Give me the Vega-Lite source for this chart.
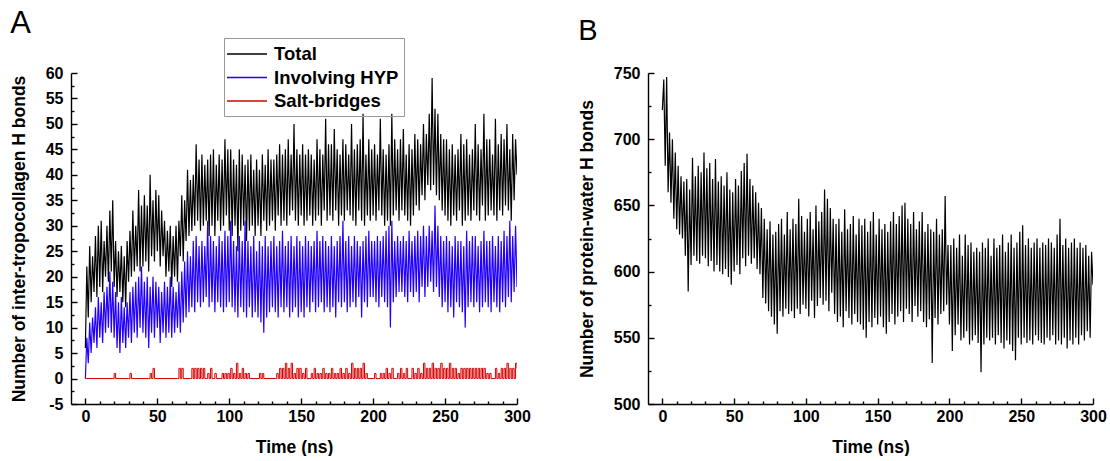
{
"$schema": "https://vega.github.io/schema/vega-lite/v6.json",
"background": "white",
"padding": {"left": 10, "top": 8, "right": 0, "bottom": 0},
"bounds": "flush",
"spacing": 131,
"config": {
  "font": "Liberation Sans",
  "view": {"stroke": null},
  "axis": {"grid": false, "ticks": false, "labelOverlap": false, "labelFont": "Liberation Sans", "labelFontWeight": "bold", "labelFontSize": 16, "labelColor": "#000", "titleFont": "Liberation Sans", "titleFontWeight": "bold", "titleFontSize": 17.5, "titleColor": "#000", "domainColor": "#000", "domainWidth": 1.4, "gridColor": "#000", "gridOpacity": 1, "gridWidth": 1.4, "labelFlush": false}
},
"datasets": {
"total": [{"t":0,"v":6},{"t":1,"v":22},{"t":2,"v":12},{"t":3,"v":26},{"t":4,"v":15},{"t":5,"v":24},{"t":6,"v":17},{"t":7,"v":28},{"t":8,"v":16},{"t":9,"v":30},
{"t":10,"v":18},{"t":11,"v":31},{"t":12,"v":17},{"t":13,"v":27},{"t":14,"v":20},{"t":15,"v":30},{"t":16,"v":19},{"t":17,"v":33},{"t":18,"v":21},{"t":19,"v":35},
{"t":20,"v":18},{"t":21,"v":27},{"t":22,"v":16},{"t":23,"v":25},{"t":24,"v":17},{"t":25,"v":26},{"t":26,"v":15},{"t":27,"v":24},{"t":28,"v":14},{"t":29,"v":27},
{"t":30,"v":19},{"t":31,"v":29},{"t":32,"v":20},{"t":33,"v":33},{"t":34,"v":21},{"t":35,"v":30},{"t":36,"v":22},{"t":37,"v":37},{"t":38,"v":21},{"t":39,"v":34},
{"t":40,"v":22},{"t":41,"v":36},{"t":42,"v":23},{"t":43,"v":34},{"t":44,"v":21},{"t":45,"v":40},{"t":46,"v":24},{"t":47,"v":35},{"t":48,"v":23},{"t":49,"v":37},
{"t":50,"v":25},{"t":51,"v":36},{"t":52,"v":22},{"t":53,"v":33},{"t":54,"v":24},{"t":55,"v":31},{"t":56,"v":20},{"t":57,"v":29},{"t":58,"v":21},{"t":59,"v":30},
{"t":60,"v":18},{"t":61,"v":28},{"t":62,"v":20},{"t":63,"v":30},{"t":64,"v":19},{"t":65,"v":31},{"t":66,"v":24},{"t":67,"v":36},{"t":68,"v":23},{"t":69,"v":35},
{"t":70,"v":27},{"t":71,"v":41},{"t":72,"v":28},{"t":73,"v":39},{"t":74,"v":29},{"t":75,"v":40},{"t":76,"v":30},{"t":77,"v":46},{"t":78,"v":31},{"t":79,"v":43},
{"t":80,"v":29},{"t":81,"v":44},{"t":82,"v":30},{"t":83,"v":42},{"t":84,"v":31},{"t":85,"v":43},{"t":86,"v":28},{"t":87,"v":44},{"t":88,"v":30},{"t":89,"v":45},
{"t":90,"v":28},{"t":91,"v":42},{"t":92,"v":31},{"t":93,"v":44},{"t":94,"v":29},{"t":95,"v":43},{"t":96,"v":30},{"t":97,"v":47},{"t":98,"v":32},{"t":99,"v":45},
{"t":100,"v":29},{"t":101,"v":45},{"t":102,"v":28},{"t":103,"v":43},{"t":104,"v":30},{"t":105,"v":42},{"t":106,"v":25},{"t":107,"v":45},{"t":108,"v":29},{"t":109,"v":44},
{"t":110,"v":30},{"t":111,"v":42},{"t":112,"v":27},{"t":113,"v":43},{"t":114,"v":29},{"t":115,"v":44},{"t":116,"v":30},{"t":117,"v":41},{"t":118,"v":28},{"t":119,"v":43},
{"t":120,"v":30},{"t":121,"v":41},{"t":122,"v":28},{"t":123,"v":44},{"t":124,"v":31},{"t":125,"v":42},{"t":126,"v":29},{"t":127,"v":45},{"t":128,"v":30},{"t":129,"v":43},
{"t":130,"v":31},{"t":131,"v":43},{"t":132,"v":29},{"t":133,"v":44},{"t":134,"v":32},{"t":135,"v":46},{"t":136,"v":30},{"t":137,"v":44},{"t":138,"v":31},{"t":139,"v":45},
{"t":140,"v":30},{"t":141,"v":47},{"t":142,"v":32},{"t":143,"v":44},{"t":144,"v":33},{"t":145,"v":50},{"t":146,"v":31},{"t":147,"v":45},{"t":148,"v":30},{"t":149,"v":44},
{"t":150,"v":32},{"t":151,"v":46},{"t":152,"v":30},{"t":153,"v":44},{"t":154,"v":31},{"t":155,"v":45},{"t":156,"v":32},{"t":157,"v":44},{"t":158,"v":30},{"t":159,"v":43},
{"t":160,"v":31},{"t":161,"v":47},{"t":162,"v":32},{"t":163,"v":45},{"t":164,"v":30},{"t":165,"v":44},{"t":166,"v":33},{"t":167,"v":51},{"t":168,"v":31},{"t":169,"v":46},
{"t":170,"v":32},{"t":171,"v":46},{"t":172,"v":31},{"t":173,"v":49},{"t":174,"v":33},{"t":175,"v":45},{"t":176,"v":30},{"t":177,"v":44},{"t":178,"v":32},{"t":179,"v":47},
{"t":180,"v":31},{"t":181,"v":46},{"t":182,"v":33},{"t":183,"v":44},{"t":184,"v":32},{"t":185,"v":50},{"t":186,"v":31},{"t":187,"v":45},{"t":188,"v":30},{"t":189,"v":46},
{"t":190,"v":33},{"t":191,"v":47},{"t":192,"v":31},{"t":193,"v":52},{"t":194,"v":30},{"t":195,"v":44},{"t":196,"v":32},{"t":197,"v":47},{"t":198,"v":31},{"t":199,"v":45},
{"t":200,"v":32},{"t":201,"v":46},{"t":202,"v":31},{"t":203,"v":44},{"t":204,"v":33},{"t":205,"v":51},{"t":206,"v":32},{"t":207,"v":45},{"t":208,"v":30},{"t":209,"v":44},
{"t":210,"v":31},{"t":211,"v":46},{"t":212,"v":30},{"t":213,"v":52},{"t":214,"v":32},{"t":215,"v":47},{"t":216,"v":33},{"t":217,"v":45},{"t":218,"v":31},{"t":219,"v":47},
{"t":220,"v":33},{"t":221,"v":49},{"t":222,"v":32},{"t":223,"v":44},{"t":224,"v":31},{"t":225,"v":46},{"t":226,"v":30},{"t":227,"v":45},{"t":228,"v":32},{"t":229,"v":48},
{"t":230,"v":34},{"t":231,"v":47},{"t":232,"v":33},{"t":233,"v":46},{"t":234,"v":36},{"t":235,"v":50},{"t":236,"v":35},{"t":237,"v":48},{"t":238,"v":38},{"t":239,"v":52},
{"t":240,"v":37},{"t":241,"v":59},{"t":242,"v":38},{"t":243,"v":53},{"t":244,"v":36},{"t":245,"v":52},{"t":246,"v":35},{"t":247,"v":48},{"t":248,"v":33},{"t":249,"v":47},
{"t":250,"v":32},{"t":251,"v":47},{"t":252,"v":31},{"t":253,"v":45},{"t":254,"v":30},{"t":255,"v":46},{"t":256,"v":32},{"t":257,"v":44},{"t":258,"v":31},{"t":259,"v":45},
{"t":260,"v":33},{"t":261,"v":48},{"t":262,"v":30},{"t":263,"v":46},{"t":264,"v":31},{"t":265,"v":47},{"t":266,"v":32},{"t":267,"v":44},{"t":268,"v":31},{"t":269,"v":45},
{"t":270,"v":33},{"t":271,"v":50},{"t":272,"v":32},{"t":273,"v":46},{"t":274,"v":31},{"t":275,"v":45},{"t":276,"v":34},{"t":277,"v":52},{"t":278,"v":31},{"t":279,"v":47},
{"t":280,"v":32},{"t":281,"v":47},{"t":282,"v":33},{"t":283,"v":44},{"t":284,"v":32},{"t":285,"v":51},{"t":286,"v":31},{"t":287,"v":46},{"t":288,"v":33},{"t":289,"v":48},
{"t":290,"v":32},{"t":291,"v":47},{"t":292,"v":34},{"t":293,"v":50},{"t":294,"v":33},{"t":295,"v":45},{"t":296,"v":31},{"t":297,"v":48},{"t":298,"v":35},{"t":299,"v":47},
{"t":300,"v":40}],
"hyp": [{"t":0,"v":0},{"t":1,"v":8},{"t":2,"v":3},{"t":3,"v":11},{"t":4,"v":5},{"t":5,"v":12},{"t":6,"v":7},{"t":7,"v":14},{"t":8,"v":6},{"t":9,"v":16},
{"t":10,"v":8},{"t":11,"v":15},{"t":12,"v":7},{"t":13,"v":17},{"t":14,"v":9},{"t":15,"v":18},{"t":16,"v":10},{"t":17,"v":21},{"t":18,"v":9},{"t":19,"v":19},
{"t":20,"v":8},{"t":21,"v":17},{"t":22,"v":6},{"t":23,"v":15},{"t":24,"v":5},{"t":25,"v":16},{"t":26,"v":7},{"t":27,"v":14},{"t":28,"v":6},{"t":29,"v":15},
{"t":30,"v":8},{"t":31,"v":17},{"t":32,"v":7},{"t":33,"v":18},{"t":34,"v":9},{"t":35,"v":19},{"t":36,"v":8},{"t":37,"v":20},{"t":38,"v":10},{"t":39,"v":22},
{"t":40,"v":9},{"t":41,"v":19},{"t":42,"v":8},{"t":43,"v":20},{"t":44,"v":6},{"t":45,"v":18},{"t":46,"v":9},{"t":47,"v":20},{"t":48,"v":8},{"t":49,"v":19},
{"t":50,"v":10},{"t":51,"v":18},{"t":52,"v":7},{"t":53,"v":17},{"t":54,"v":9},{"t":55,"v":19},{"t":56,"v":8},{"t":57,"v":18},{"t":58,"v":9},{"t":59,"v":20},
{"t":60,"v":8},{"t":61,"v":18},{"t":62,"v":9},{"t":63,"v":17},{"t":64,"v":10},{"t":65,"v":19},{"t":66,"v":9},{"t":67,"v":21},{"t":68,"v":11},{"t":69,"v":23},
{"t":70,"v":12},{"t":71,"v":25},{"t":72,"v":13},{"t":73,"v":24},{"t":74,"v":14},{"t":75,"v":27},{"t":76,"v":13},{"t":77,"v":28},{"t":78,"v":15},{"t":79,"v":26},
{"t":80,"v":14},{"t":81,"v":27},{"t":82,"v":15},{"t":83,"v":26},{"t":84,"v":16},{"t":85,"v":31},{"t":86,"v":14},{"t":87,"v":28},{"t":88,"v":15},{"t":89,"v":27},
{"t":90,"v":13},{"t":91,"v":26},{"t":92,"v":15},{"t":93,"v":28},{"t":94,"v":14},{"t":95,"v":27},{"t":96,"v":13},{"t":97,"v":29},{"t":98,"v":14},{"t":99,"v":28},
{"t":100,"v":15},{"t":101,"v":31},{"t":102,"v":14},{"t":103,"v":27},{"t":104,"v":13},{"t":105,"v":26},{"t":106,"v":12},{"t":107,"v":28},{"t":108,"v":14},{"t":109,"v":27},
{"t":110,"v":13},{"t":111,"v":31},{"t":112,"v":12},{"t":113,"v":27},{"t":114,"v":14},{"t":115,"v":26},{"t":116,"v":12},{"t":117,"v":28},{"t":118,"v":13},{"t":119,"v":25},
{"t":120,"v":12},{"t":121,"v":27},{"t":122,"v":11},{"t":123,"v":26},{"t":124,"v":9},{"t":125,"v":28},{"t":126,"v":12},{"t":127,"v":26},{"t":128,"v":13},{"t":129,"v":27},
{"t":130,"v":14},{"t":131,"v":28},{"t":132,"v":13},{"t":133,"v":26},{"t":134,"v":12},{"t":135,"v":27},{"t":136,"v":14},{"t":137,"v":29},{"t":138,"v":13},{"t":139,"v":26},
{"t":140,"v":14},{"t":141,"v":27},{"t":142,"v":12},{"t":143,"v":28},{"t":144,"v":13},{"t":145,"v":26},{"t":146,"v":14},{"t":147,"v":28},{"t":148,"v":12},{"t":149,"v":27},
{"t":150,"v":13},{"t":151,"v":26},{"t":152,"v":12},{"t":153,"v":28},{"t":154,"v":14},{"t":155,"v":27},{"t":156,"v":13},{"t":157,"v":26},{"t":158,"v":15},{"t":159,"v":27},
{"t":160,"v":13},{"t":161,"v":29},{"t":162,"v":14},{"t":163,"v":27},{"t":164,"v":15},{"t":165,"v":28},{"t":166,"v":13},{"t":167,"v":27},{"t":168,"v":14},{"t":169,"v":26},
{"t":170,"v":13},{"t":171,"v":28},{"t":172,"v":14},{"t":173,"v":26},{"t":174,"v":12},{"t":175,"v":27},{"t":176,"v":15},{"t":177,"v":28},{"t":178,"v":14},{"t":179,"v":31},
{"t":180,"v":15},{"t":181,"v":27},{"t":182,"v":13},{"t":183,"v":28},{"t":184,"v":14},{"t":185,"v":26},{"t":186,"v":15},{"t":187,"v":28},{"t":188,"v":14},{"t":189,"v":27},
{"t":190,"v":16},{"t":191,"v":26},{"t":192,"v":12},{"t":193,"v":27},{"t":194,"v":15},{"t":195,"v":28},{"t":196,"v":14},{"t":197,"v":29},{"t":198,"v":16},{"t":199,"v":27},
{"t":200,"v":16},{"t":201,"v":27},{"t":202,"v":15},{"t":203,"v":28},{"t":204,"v":14},{"t":205,"v":27},{"t":206,"v":16},{"t":207,"v":28},{"t":208,"v":15},{"t":209,"v":29},
{"t":210,"v":14},{"t":211,"v":30},{"t":212,"v":10},{"t":213,"v":31},{"t":214,"v":15},{"t":215,"v":27},{"t":216,"v":16},{"t":217,"v":28},{"t":218,"v":17},{"t":219,"v":27},
{"t":220,"v":17},{"t":221,"v":28},{"t":222,"v":16},{"t":223,"v":27},{"t":224,"v":15},{"t":225,"v":29},{"t":226,"v":17},{"t":227,"v":27},{"t":228,"v":16},{"t":229,"v":28},
{"t":230,"v":17},{"t":231,"v":29},{"t":232,"v":15},{"t":233,"v":28},{"t":234,"v":18},{"t":235,"v":30},{"t":236,"v":16},{"t":237,"v":28},{"t":238,"v":18},{"t":239,"v":30},
{"t":240,"v":19},{"t":241,"v":29},{"t":242,"v":17},{"t":243,"v":34},{"t":244,"v":18},{"t":245,"v":30},{"t":246,"v":16},{"t":247,"v":28},{"t":248,"v":14},{"t":249,"v":27},
{"t":250,"v":15},{"t":251,"v":28},{"t":252,"v":13},{"t":253,"v":27},{"t":254,"v":14},{"t":255,"v":26},{"t":256,"v":12},{"t":257,"v":28},{"t":258,"v":15},{"t":259,"v":27},
{"t":260,"v":14},{"t":261,"v":27},{"t":262,"v":13},{"t":263,"v":26},{"t":264,"v":10},{"t":265,"v":29},{"t":266,"v":14},{"t":267,"v":27},{"t":268,"v":15},{"t":269,"v":28},
{"t":270,"v":14},{"t":271,"v":28},{"t":272,"v":15},{"t":273,"v":26},{"t":274,"v":13},{"t":275,"v":27},{"t":276,"v":14},{"t":277,"v":29},{"t":278,"v":15},{"t":279,"v":27},
{"t":280,"v":14},{"t":281,"v":27},{"t":282,"v":13},{"t":283,"v":28},{"t":284,"v":15},{"t":285,"v":26},{"t":286,"v":14},{"t":287,"v":28},{"t":288,"v":13},{"t":289,"v":27},
{"t":290,"v":15},{"t":291,"v":29},{"t":292,"v":14},{"t":293,"v":28},{"t":294,"v":16},{"t":295,"v":31},{"t":296,"v":15},{"t":297,"v":28},{"t":298,"v":17},{"t":299,"v":30},
{"t":300,"v":18}],
"salt": [{"t":0,"v":0},{"t":19,"v":0},{"t":20,"v":1},{"t":21,"v":0},{"t":30,"v":0},{"t":31,"v":1},{"t":32,"v":0},{"t":44,"v":0},{"t":45,"v":1},{"t":46,"v":0},{"t":47,"v":2},{"t":48,"v":0},
{"t":64,"v":0},{"t":65,"v":2},{"t":66,"v":0},{"t":67,"v":2},{"t":68,"v":0},
{"t":73,"v":0},{"t":74,"v":2},{"t":75,"v":0},{"t":76,"v":2},{"t":77,"v":0},{"t":78,"v":2},{"t":79,"v":0},
{"t":80,"v":2},{"t":81,"v":0},{"t":82,"v":2},{"t":83,"v":0},{"t":84,"v":0},{"t":85,"v":1},{"t":86,"v":0},{"t":87,"v":2},{"t":88,"v":0},{"t":89,"v":0},
{"t":90,"v":1},{"t":91,"v":0},{"t":94,"v":0},{"t":95,"v":1},{"t":96,"v":0},{"t":97,"v":1},{"t":98,"v":0},{"t":99,"v":1},
{"t":100,"v":0},{"t":101,"v":2},{"t":102,"v":0},{"t":103,"v":1},{"t":104,"v":0},{"t":105,"v":3},{"t":106,"v":0},{"t":107,"v":1},{"t":108,"v":0},{"t":109,"v":2},
{"t":110,"v":0},{"t":111,"v":1},{"t":112,"v":0},{"t":113,"v":1},{"t":114,"v":0},
{"t":120,"v":0},{"t":121,"v":1},{"t":122,"v":0},{"t":123,"v":1},{"t":124,"v":0},
{"t":132,"v":0},{"t":133,"v":1},{"t":134,"v":0},{"t":135,"v":2},{"t":136,"v":0},{"t":137,"v":2},{"t":138,"v":0},{"t":139,"v":3},
{"t":140,"v":0},{"t":141,"v":2},{"t":142,"v":0},{"t":143,"v":3},{"t":144,"v":0},{"t":145,"v":1},{"t":146,"v":0},{"t":147,"v":2},{"t":148,"v":0},{"t":149,"v":2},
{"t":150,"v":0},{"t":151,"v":1},{"t":152,"v":0},{"t":153,"v":2},{"t":154,"v":0},{"t":156,"v":0},{"t":157,"v":1},{"t":158,"v":0},{"t":159,"v":2},
{"t":160,"v":0},{"t":161,"v":1},{"t":162,"v":0},{"t":163,"v":1},{"t":164,"v":0},{"t":165,"v":2},{"t":166,"v":0},{"t":167,"v":1},{"t":168,"v":0},{"t":169,"v":1},
{"t":170,"v":0},{"t":171,"v":2},{"t":172,"v":0},{"t":173,"v":1},{"t":174,"v":0},{"t":175,"v":1},{"t":176,"v":0},{"t":177,"v":2},{"t":178,"v":0},{"t":179,"v":1},
{"t":180,"v":0},{"t":181,"v":2},{"t":182,"v":0},{"t":183,"v":1},{"t":184,"v":0},{"t":185,"v":3},{"t":186,"v":0},{"t":187,"v":2},{"t":188,"v":0},{"t":189,"v":2},
{"t":190,"v":0},{"t":191,"v":2},{"t":192,"v":0},{"t":193,"v":3},{"t":194,"v":0},{"t":195,"v":1},{"t":196,"v":0},
{"t":200,"v":0},{"t":201,"v":1},{"t":202,"v":0},{"t":204,"v":0},{"t":205,"v":1},{"t":206,"v":0},{"t":207,"v":1},{"t":208,"v":0},{"t":209,"v":2},
{"t":210,"v":0},{"t":211,"v":1},{"t":212,"v":0},{"t":213,"v":2},{"t":214,"v":0},{"t":216,"v":0},{"t":217,"v":1},{"t":218,"v":0},{"t":219,"v":2},
{"t":220,"v":0},{"t":221,"v":1},{"t":222,"v":0},{"t":223,"v":2},{"t":224,"v":0},{"t":226,"v":0},{"t":227,"v":2},{"t":228,"v":0},{"t":229,"v":1},
{"t":230,"v":0},{"t":231,"v":2},{"t":232,"v":0},{"t":233,"v":1},{"t":234,"v":0},{"t":235,"v":3},{"t":236,"v":0},{"t":237,"v":2},{"t":238,"v":0},{"t":239,"v":2},
{"t":240,"v":0},{"t":241,"v":3},{"t":242,"v":0},{"t":243,"v":2},{"t":244,"v":0},{"t":245,"v":2},{"t":246,"v":0},{"t":247,"v":3},{"t":248,"v":0},{"t":249,"v":2},
{"t":250,"v":0},{"t":251,"v":2},{"t":252,"v":0},{"t":253,"v":3},{"t":254,"v":0},{"t":255,"v":2},{"t":256,"v":0},{"t":257,"v":2},{"t":258,"v":0},{"t":259,"v":1},
{"t":260,"v":0},{"t":261,"v":2},{"t":262,"v":0},{"t":263,"v":2},{"t":264,"v":0},{"t":265,"v":2},{"t":266,"v":0},{"t":267,"v":2},{"t":268,"v":0},{"t":269,"v":2},
{"t":270,"v":0},{"t":271,"v":2},{"t":272,"v":0},{"t":273,"v":2},{"t":274,"v":0},{"t":275,"v":2},{"t":276,"v":0},{"t":277,"v":2},{"t":278,"v":0},{"t":279,"v":1},
{"t":280,"v":0},{"t":281,"v":1},{"t":282,"v":0},{"t":284,"v":0},{"t":285,"v":2},{"t":286,"v":0},{"t":287,"v":1},{"t":288,"v":0},{"t":289,"v":2},
{"t":290,"v":0},{"t":291,"v":2},{"t":292,"v":0},{"t":293,"v":3},{"t":294,"v":0},{"t":295,"v":2},{"t":296,"v":0},{"t":297,"v":2},{"t":298,"v":0},{"t":299,"v":3},
{"t":300,"v":2}],
"water": [{"t":0,"v":722},{"t":1,"v":745},{"t":2,"v":680},{"t":3,"v":747},{"t":4,"v":660},{"t":5,"v":705},{"t":6,"v":652},{"t":7,"v":700},{"t":8,"v":640},{"t":9,"v":690},
{"t":10,"v":632},{"t":11,"v":680},{"t":12,"v":628},{"t":13,"v":672},{"t":14,"v":625},{"t":15,"v":668},{"t":16,"v":612},{"t":17,"v":670},{"t":18,"v":585},{"t":19,"v":662},
{"t":20,"v":605},{"t":21,"v":686},{"t":22,"v":612},{"t":23,"v":672},{"t":24,"v":608},{"t":25,"v":680},{"t":26,"v":606},{"t":27,"v":675},{"t":28,"v":612},{"t":29,"v":690},
{"t":30,"v":610},{"t":31,"v":678},{"t":32,"v":604},{"t":33,"v":682},{"t":34,"v":608},{"t":35,"v":670},{"t":36,"v":600},{"t":37,"v":685},{"t":38,"v":605},{"t":39,"v":668},
{"t":40,"v":600},{"t":41,"v":672},{"t":42,"v":598},{"t":43,"v":665},{"t":44,"v":602},{"t":45,"v":675},{"t":46,"v":596},{"t":47,"v":662},{"t":48,"v":590},{"t":49,"v":660},
{"t":50,"v":600},{"t":51,"v":670},{"t":52,"v":605},{"t":53,"v":665},{"t":54,"v":598},{"t":55,"v":676},{"t":56,"v":610},{"t":57,"v":682},{"t":58,"v":604},{"t":59,"v":689},
{"t":60,"v":612},{"t":61,"v":670},{"t":62,"v":606},{"t":63,"v":665},{"t":64,"v":610},{"t":65,"v":660},{"t":66,"v":602},{"t":67,"v":652},{"t":68,"v":598},{"t":69,"v":648},
{"t":70,"v":580},{"t":71,"v":640},{"t":72,"v":576},{"t":73,"v":632},{"t":74,"v":570},{"t":75,"v":638},{"t":76,"v":566},{"t":77,"v":628},{"t":78,"v":560},{"t":79,"v":630},
{"t":80,"v":553},{"t":81,"v":636},{"t":82,"v":570},{"t":83,"v":640},{"t":84,"v":566},{"t":85,"v":628},{"t":86,"v":572},{"t":87,"v":645},{"t":88,"v":568},{"t":89,"v":632},
{"t":90,"v":570},{"t":91,"v":640},{"t":92,"v":565},{"t":93,"v":636},{"t":94,"v":572},{"t":95,"v":655},{"t":96,"v":568},{"t":97,"v":642},{"t":98,"v":575},{"t":99,"v":630},
{"t":100,"v":572},{"t":101,"v":640},{"t":102,"v":566},{"t":103,"v":645},{"t":104,"v":578},{"t":105,"v":632},{"t":106,"v":565},{"t":107,"v":650},{"t":108,"v":574},{"t":109,"v":638},
{"t":110,"v":580},{"t":111,"v":645},{"t":112,"v":575},{"t":113,"v":662},{"t":114,"v":578},{"t":115,"v":655},{"t":116,"v":570},{"t":117,"v":648},{"t":118,"v":584},{"t":119,"v":640},
{"t":120,"v":568},{"t":121,"v":636},{"t":122,"v":562},{"t":123,"v":640},{"t":124,"v":566},{"t":125,"v":630},{"t":126,"v":558},{"t":127,"v":647},{"t":128,"v":570},{"t":129,"v":632},
{"t":130,"v":565},{"t":131,"v":636},{"t":132,"v":560},{"t":133,"v":642},{"t":134,"v":568},{"t":135,"v":628},{"t":136,"v":562},{"t":137,"v":640},{"t":138,"v":560},{"t":139,"v":635},
{"t":140,"v":556},{"t":141,"v":640},{"t":142,"v":550},{"t":143,"v":630},{"t":144,"v":562},{"t":145,"v":638},{"t":146,"v":558},{"t":147,"v":645},{"t":148,"v":565},{"t":149,"v":628},
{"t":150,"v":560},{"t":151,"v":640},{"t":152,"v":566},{"t":153,"v":632},{"t":154,"v":558},{"t":155,"v":636},{"t":156,"v":553},{"t":157,"v":630},{"t":158,"v":562},{"t":159,"v":638},
{"t":160,"v":568},{"t":161,"v":645},{"t":162,"v":560},{"t":163,"v":636},{"t":164,"v":566},{"t":165,"v":642},{"t":166,"v":570},{"t":167,"v":650},{"t":168,"v":562},{"t":169,"v":652},
{"t":170,"v":572},{"t":171,"v":640},{"t":172,"v":568},{"t":173,"v":636},{"t":174,"v":562},{"t":175,"v":645},{"t":176,"v":574},{"t":177,"v":632},{"t":178,"v":566},{"t":179,"v":638},
{"t":180,"v":570},{"t":181,"v":645},{"t":182,"v":562},{"t":183,"v":630},{"t":184,"v":558},{"t":185,"v":636},{"t":186,"v":564},{"t":187,"v":632},{"t":188,"v":531},{"t":189,"v":630},
{"t":190,"v":565},{"t":191,"v":640},{"t":192,"v":560},{"t":193,"v":628},{"t":194,"v":568},{"t":195,"v":632},{"t":196,"v":570},{"t":197,"v":657},{"t":198,"v":575},{"t":199,"v":620},
{"t":200,"v":560},{"t":201,"v":620},{"t":202,"v":540},{"t":203,"v":625},{"t":204,"v":552},{"t":205,"v":618},{"t":206,"v":560},{"t":207,"v":628},{"t":208,"v":548},{"t":209,"v":612},
{"t":210,"v":550},{"t":211,"v":628},{"t":212,"v":555},{"t":213,"v":620},{"t":214,"v":545},{"t":215,"v":622},{"t":216,"v":548},{"t":217,"v":615},{"t":218,"v":552},{"t":219,"v":618},
{"t":220,"v":546},{"t":221,"v":615},{"t":222,"v":524},{"t":223,"v":622},{"t":224,"v":545},{"t":225,"v":618},{"t":226,"v":550},{"t":227,"v":625},{"t":228,"v":548},{"t":229,"v":612},
{"t":230,"v":550},{"t":231,"v":625},{"t":232,"v":545},{"t":233,"v":618},{"t":234,"v":552},{"t":235,"v":620},{"t":236,"v":546},{"t":237,"v":628},{"t":238,"v":542},{"t":239,"v":615},
{"t":240,"v":548},{"t":241,"v":622},{"t":242,"v":545},{"t":243,"v":628},{"t":244,"v":540},{"t":245,"v":618},{"t":246,"v":533},{"t":247,"v":622},{"t":248,"v":550},{"t":249,"v":630},
{"t":250,"v":545},{"t":251,"v":635},{"t":252,"v":550},{"t":253,"v":620},{"t":254,"v":546},{"t":255,"v":625},{"t":256,"v":548},{"t":257,"v":618},{"t":258,"v":545},{"t":259,"v":622},
{"t":260,"v":552},{"t":261,"v":625},{"t":262,"v":548},{"t":263,"v":618},{"t":264,"v":546},{"t":265,"v":622},{"t":266,"v":545},{"t":267,"v":620},{"t":268,"v":550},{"t":269,"v":625},
{"t":270,"v":548},{"t":271,"v":622},{"t":272,"v":552},{"t":273,"v":618},{"t":274,"v":545},{"t":275,"v":628},{"t":276,"v":548},{"t":277,"v":640},{"t":278,"v":545},{"t":279,"v":620},
{"t":280,"v":550},{"t":281,"v":625},{"t":282,"v":542},{"t":283,"v":618},{"t":284,"v":548},{"t":285,"v":622},{"t":286,"v":545},{"t":287,"v":625},{"t":288,"v":550},{"t":289,"v":618},
{"t":290,"v":545},{"t":291,"v":622},{"t":292,"v":552},{"t":293,"v":618},{"t":294,"v":548},{"t":295,"v":620},{"t":296,"v":555},{"t":297,"v":612},{"t":298,"v":550},{"t":299,"v":615},
{"t":300,"v":590}]
},
"hconcat": [
{
  "width": 446, "height": 331,
  "title": {"text": "A", "anchor": "start", "frame": "bounds", "fontSize": 31, "fontWeight": "normal", "font": "Liberation Sans", "color": "#000", "offset": 25},
  "layer": [
    {"data": {"name": "total"}, "mark": {"type": "line", "strokeWidth": 1.2, "clip": true},
     "encoding": {
       "x": {"field": "t", "type": "quantitative", "scale": {"domain": [-10, 300], "nice": false, "zero": false},
             "axis": {"values": [0,10,20,30,40,50,60,70,80,90,100,110,120,130,140,150,160,170,180,190,200,210,220,230,240,250,260,270,280,290,300],
                      "tickCount": 100, "labelOverlap": false,
                      "labelExpr": "datum.value % 50 === 0 ? '' + datum.value : ''", "grid": true,
                      "gridDash": {"condition": {"test": "datum.value % 50 !== 0", "value": [3, 328]}, "value": [6, 325]},
                      "gridDashOffset": {"condition": {"test": "datum.value % 50 !== 0", "value": 3}, "value": 6},
                      "labelPadding": 4, "title": "Time (ns)", "titlePadding": 14, "orient": "bottom"}},
       "y": {"field": "v", "type": "quantitative", "scale": {"domain": [-5, 60], "nice": false, "zero": false},
             "axis": {"values": [-5,-2.5,0,2.5,5,7.5,10,12.5,15,17.5,20,22.5,25,27.5,30,32.5,35,37.5,40,42.5,45,47.5,50,52.5,55,57.5,60],
                      "tickCount": 100, "labelOverlap": false,
                      "labelExpr": "datum.value % 5 === 0 ? '' + datum.value : ''", "grid": true,
                      "gridDash": {"condition": {"test": "datum.value % 5 !== 0", "value": [3, 2000]}, "value": [6, 2000]},
                      "labelPadding": 8, "title": "Number of inter-tropocollagen H bonds", "titlePadding": 17, "orient": "left"}},
       "color": {"datum": "Total", "scale": {"domain": ["Total", "Involving HYP", "Salt-bridges"], "range": ["#000000", "#2200ff", "#d00000"]},
                 "legend": {"title": null, "orient": "none", "legendX": 153, "legendY": -35, "strokeColor": "#999", "padding": 5, "symbolType": "M-2,0H2", "symbolSize": 400, "symbolStrokeWidth": 1.5, "symbolOffset": 7, "labelOffset": 16, "labelFont": "Liberation Sans", "labelFontWeight": "bold", "labelFontSize": 18.5, "labelColor": "#000", "rowPadding": 2.5}}
     }},
    {"data": {"name": "hyp"}, "mark": {"type": "line", "strokeWidth": 1.2, "clip": true},
     "encoding": {
       "x": {"field": "t", "type": "quantitative", "scale": {"domain": [-10, 300], "nice": false, "zero": false}},
       "y": {"field": "v", "type": "quantitative", "scale": {"domain": [-5, 60], "nice": false, "zero": false}},
       "color": {"datum": "Involving HYP"}
     }},
    {"data": {"name": "salt"}, "mark": {"type": "line", "strokeWidth": 1, "interpolate": "step-after", "clip": true},
     "encoding": {
       "x": {"field": "t", "type": "quantitative", "scale": {"domain": [-10, 300], "nice": false, "zero": false}},
       "y": {"field": "v", "type": "quantitative", "scale": {"domain": [-5, 60], "nice": false, "zero": false}},
       "color": {"datum": "Salt-bridges"}
     }}
  ]
},
{
  "width": 445, "height": 331,
  "title": {"text": "B", "anchor": "start", "frame": "bounds", "fontSize": 29, "fontWeight": "normal", "font": "Liberation Sans", "color": "#000", "offset": 19},
  "data": {"name": "water"},
  "mark": {"type": "line", "strokeWidth": 1.2, "color": "#000", "clip": true},
  "encoding": {
    "x": {"field": "t", "type": "quantitative", "scale": {"domain": [-10, 300], "nice": false, "zero": false},
          "axis": {"values": [0,10,20,30,40,50,60,70,80,90,100,110,120,130,140,150,160,170,180,190,200,210,220,230,240,250,260,270,280,290,300],
                   "tickCount": 100, "labelOverlap": false,
                   "labelExpr": "datum.value % 50 === 0 ? '' + datum.value : ''", "grid": true,
                   "gridDash": {"condition": {"test": "datum.value % 50 !== 0", "value": [3, 328]}, "value": [6, 325]},
                   "gridDashOffset": {"condition": {"test": "datum.value % 50 !== 0", "value": 3}, "value": 6},
                   "labelPadding": 4, "title": "Time (ns)", "titlePadding": 14, "orient": "bottom"}},
    "y": {"field": "v", "type": "quantitative", "scale": {"domain": [500, 750], "nice": false, "zero": false},
          "axis": {"values": [500,525,550,575,600,625,650,675,700,725,750],
                   "tickCount": 100, "labelOverlap": false,
                   "labelExpr": "datum.value % 50 === 0 ? '' + datum.value : ''", "grid": true,
                   "gridDash": {"condition": {"test": "datum.value % 50 !== 0", "value": [3, 2000]}, "value": [6, 2000]},
                   "labelPadding": 8, "title": "Number of protein-water H bonds", "titlePadding": 17, "orient": "left"}}
  }
}
]
}
